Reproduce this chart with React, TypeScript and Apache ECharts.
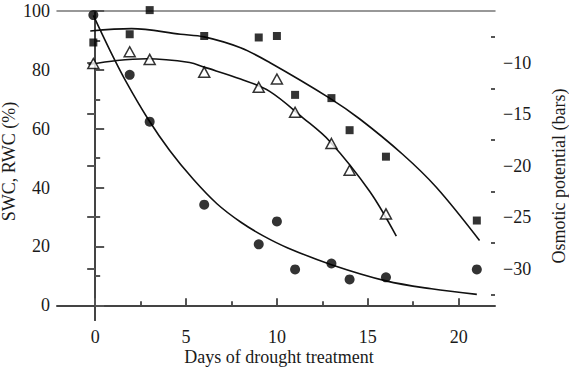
import React, { useEffect, useRef } from "react";
import * as echarts from "echarts";

// Days of drought treatment for each measurement
const days = [-0.1, 1.9, 3, 6, 9, 10, 11, 13, 14, 16, 21];
// SWC (%) – filled circles
const swc = [98.6, 78.3, 62.4, 34.2, 20.7, 28.5, 12.2, 14.2, 8.8, 9.5, 12.2];
// RWC (%) – filled squares
const rwc = [89.3, 92.1, 100.3, 91.5, 91, 91.5, 71.5, 70.4, 59.5, 50.5, 28.8];
// Osmotic potential (bars) – open triangles (first 10 days)
const osm = [-10.1, -8.96, -9.7, -10.94, -12.4, -11.6, -14.83, -17.86, -20.46, -24.7];

// Fitted trend curves
const swcCurveX = [-0.1, 0.8, 1.7, 2.9, 4.1, 5.4, 6.7, 8, 9.25, 10.6, 13, 16, 18.5, 21];
const swcCurveY = [98.5, 86.8, 76, 63.4, 52.6, 42.8, 34.5, 28.3, 23.6, 19.5, 13.8, 8.3, 5.6, 3.7];
const rwcCurveX = [-0.27, 2, 4.7, 6, 8, 9.6, 12.9, 14.56, 16.9, 18.77, 21.15];
const rwcCurveY = [93.2, 94, 92.1, 91.2, 87.5, 82.5, 70.4, 63.3, 51.4, 40.1, 22];
const osmCurveX = [-0.37, 1.2, 2.84, 5.2, 6, 8, 9.6, 11.43, 12.9, 15.1, 16.57];
const osmCurveY = [-10.2, -9.8, -9.64, -10.0, -10.45, -11.6, -12.8, -15.37, -17.64, -22.5, -26.86];

// Tick values
const xMajor = [0, 5, 10, 15, 20];
const xMinor = [2.5, 7.5, 12.5, 17.5];
const yLeftMajor = [0, 20, 40, 60, 80, 100];
const yLeftMinor = [10, 30, 50, 70, 90];
const yRightMajor = [-30, -25, -20, -15, -10];
const yRightMinor = [-32.5, -27.5, -22.5, -17.5, -12.5, -7.5];

const FONT = "Liberation Serif";
const TXT = "#1a1a1a";
const AX = "#444";
const TK = "#555";

const zip = (xs: number[], ys: number[]) => ys.map((y, i) => [xs[i], y]);

export default function App() {
  const ref = useRef<HTMLDivElement>(null);
  useEffect(() => {
    if (!ref.current) return;
    const chart = echarts.init(ref.current, null, { renderer: "svg" });
    const label = { fontFamily: FONT, fontSize: 18, color: TXT };
    const hidden = { show: false };
    const curve = (xs: number[], ys: number[], yAxisIndex: number) => ({
      type: "line", xAxisIndex: 0, yAxisIndex, data: zip(xs, ys),
      smooth: 0.35, showSymbol: false, symbol: "none",
      lineStyle: { color: "#111", width: 1.6 }, z: 2,
    });
    const option: any = {
      animation: false,
      backgroundColor: "#fff",
      grid: { left: 57, right: 74, top: 11, bottom: 48, containLabel: false, outerBoundsMode: "none" },
      xAxis: [
        {
          type: "value", min: -2.1, max: 22, position: "bottom",
          axisLine: { show: true, lineStyle: { color: AX, width: 2 } },
          axisTick: { show: true, inside: true, length: 7, customValues: xMajor, lineStyle: { color: TK, width: 2 } },
          axisLabel: { ...label, margin: 8, customValues: xMajor },
          splitLine: hidden,
        },
        {
          type: "value", min: -2.1, max: 22, position: "bottom",
          axisLine: hidden,
          axisTick: { show: true, inside: true, length: 4, customValues: xMinor, lineStyle: { color: TK, width: 2 } },
          axisLabel: hidden, splitLine: hidden,
        },
        {
          type: "value", min: -2.1, max: 22, position: "top",
          axisLine: { show: true, lineStyle: { color: "#777", width: 1.5 } },
          axisTick: hidden, axisLabel: hidden, splitLine: hidden,
        },
      ],
      yAxis: [
        {
          type: "value", min: -5, max: 100, position: "left",
          axisLine: { show: true, lineStyle: { color: AX, width: 2 } },
          axisTick: { show: true, inside: true, length: 9, customValues: yLeftMajor, lineStyle: { color: TK, width: 2 } },
          axisLabel: { ...label, margin: 7, customValues: yLeftMajor },
          splitLine: hidden,
        },
        {
          type: "value", min: -5, max: 100, position: "left",
          axisLine: hidden,
          axisTick: { show: true, inside: true, length: 5, customValues: yLeftMinor, lineStyle: { color: TK, width: 2 } },
          axisLabel: hidden, splitLine: hidden,
        },
        {
          type: "value", min: -35, max: -5, position: "right",
          axisLine: { show: true, lineStyle: { color: AX, width: 2 } },
          axisTick: { show: true, inside: true, length: 8, customValues: yRightMajor, lineStyle: { color: TK, width: 2 } },
          axisLabel: {
            ...label, margin: 8, customValues: yRightMajor,
            formatter: (v: number) => (v < 0 ? "\u2212" + Math.abs(v) : String(v)),
          },
          splitLine: hidden,
        },
        {
          type: "value", min: -35, max: -5, position: "right",
          axisLine: hidden,
          axisTick: { show: true, inside: true, length: 4, customValues: yRightMinor, lineStyle: { color: TK, width: 2 } },
          axisLabel: hidden, splitLine: hidden,
        },
      ],
      series: [
        curve(swcCurveX, swcCurveY, 0),
        curve(rwcCurveX, rwcCurveY, 0),
        curve(osmCurveX, osmCurveY, 2),
        {
          type: "scatter", xAxisIndex: 0, yAxisIndex: 0, data: zip(days, swc), clip: false,
          symbol: "circle", symbolSize: 10, itemStyle: { color: "#000" }, z: 3,
        },
        {
          type: "scatter", xAxisIndex: 0, yAxisIndex: 0, data: zip(days, rwc), clip: false,
          symbol: "rect", symbolSize: 8, itemStyle: { color: "#000" }, z: 3,
        },
        {
          type: "scatter", xAxisIndex: 0, yAxisIndex: 2, data: zip(days, osm), clip: false,
          symbol: "triangle", symbolSize: [11, 10],
          itemStyle: { color: "#fff", borderColor: "#000", borderWidth: 1.5 }, z: 3,
        },
      ],
      graphic: [
        {
          type: "text", x: 9, y: 161.5, rotation: Math.PI / 2,
          style: {
            text: "SWC, RWC (%)", fontFamily: FONT, fontSize: 18, fill: TXT,
            align: "center", verticalAlign: "middle", textAlign: "center", textVerticalAlign: "middle",
          },
        },
        {
          type: "text", x: 558.5, y: 176, rotation: Math.PI / 2,
          style: {
            text: "Osmotic potential (bars)", fontFamily: FONT, fontSize: 18, fill: TXT,
            align: "center", verticalAlign: "middle", textAlign: "center", textVerticalAlign: "middle",
          },
        },
        {
          type: "text", x: 279, y: 357,
          style: {
            text: "Days of drought treatment", fontFamily: FONT, fontSize: 18, fill: TXT,
            align: "center", verticalAlign: "middle", textAlign: "center", textVerticalAlign: "middle",
          },
        },
      ],
    };
    chart.setOption(option);
    return () => chart.dispose();
  }, []);
  return (
    <div
      ref={ref}
      style={{ position: "fixed", left: 0, top: 0, width: 569, height: 368, background: "#fff" }}
    />
  );
}
